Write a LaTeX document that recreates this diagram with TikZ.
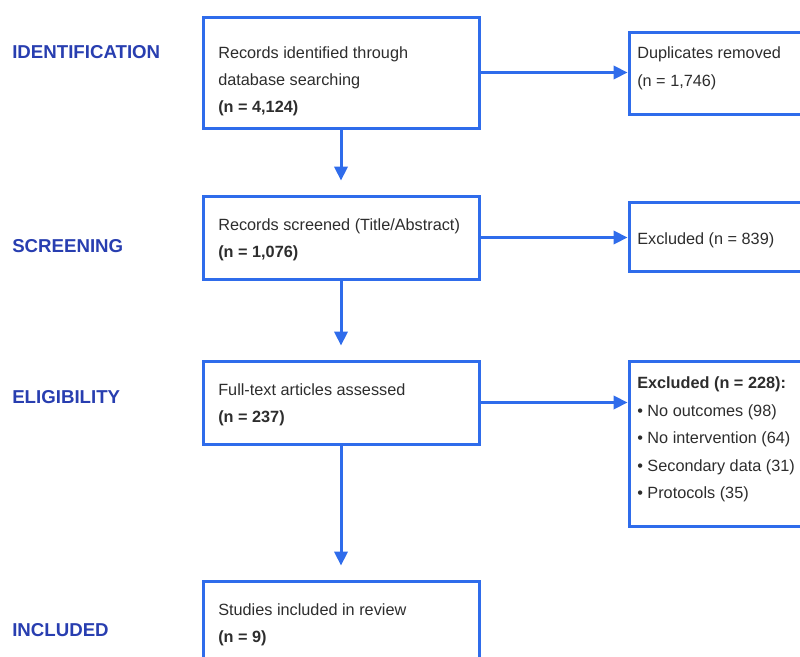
\documentclass[tikz,border=0pt]{standalone}
\usepackage{fontspec}
\setmainfont{Liberation Sans}
\usetikzlibrary{arrows.meta}
\definecolor{boxblue}{RGB}{47,108,235}
\definecolor{labelblue}{RGB}{40,62,176}
\definecolor{txt}{RGB}{45,45,45}
\tikzset{
  box/.style={draw=boxblue, line width=2.25pt, rectangle, inner sep=0pt},
  flow/.style={draw=boxblue, line width=2.25pt, -{Triangle[length=10.5pt,width=10pt]}},
  downflow/.style={flow, shorten >=10.5pt},
  stage/.style={anchor=base west, inner sep=0pt, text=labelblue, font=\fontsize{14}{16}\selectfont\bfseries},
  line/.style={anchor=base west, inner sep=0pt, text=txt, font=\fontsize{12.2}{14}\selectfont},
  bline/.style={line, font=\fontsize{12.2}{14}\selectfont\bfseries}
}
\begin{document}
\begin{tikzpicture}[x=0.75pt,y=-0.75pt]
\useasboundingbox (0,0) rectangle (800,657);
\clip (0,0) rectangle (800,657);
% stage labels
\node[stage] (s1) at (12,58) {IDENTIFICATION};
\node[stage] (s2) at (12,252) {SCREENING};
\node[stage] (s3) at (12,403) {ELIGIBILITY};
\node[stage] (s4) at (12,636) {INCLUDED};
% main boxes
\node[box, minimum width=207pt, minimum height=83.25pt] (b1) at (341,72.5) {};
\node[box, minimum width=207pt, minimum height=62.25pt] (b2) at (341,237.5) {};
\node[box, minimum width=207pt, minimum height=62.25pt] (b3) at (341,402.5) {};
\node[box, minimum width=207pt, minimum height=83.25pt] (b4) at (341,636.5) {};
% side boxes
\node[box, minimum width=150.75pt, minimum height=61.5pt] (r1) at (729.5,73) {};
\node[box, minimum width=150.75pt, minimum height=51.75pt] (r2) at (729.5,236.5) {};
\node[box, minimum width=150.75pt, minimum height=123.75pt] (r3) at (729.5,443.5) {};
% texts main
\node[line] (t1a) at (218,58) {Records identified through};
\node[line] (t1b) at (218,85) {database searching};
\node[bline] (t1c) at (218,112) {(n = 4,124)};
\node[line] (t2a) at (218,230) {Records screened (Title/Abstract)};
\node[bline] (t2b) at (218,257) {(n = 1,076)};
\node[line] (t3a) at (218,395) {Full-text articles assessed};
\node[bline] (t3b) at (218,422) {(n = 237)};
\node[line] (t4a) at (218,615) {Studies included in review};
\node[bline] (t4b) at (218,642) {(n = 9)};
% texts side
\node[line] (u1a) at (637,58) {Duplicates removed};
\node[line] (u1b) at (637,86) {(n = 1,746)};
\node[line] (u2a) at (637,244) {Excluded (n = 839)};
\node[bline] (u3a) at (637,388) {Excluded (n = 228):};
\node[line] (u3b) at (637,416) {• No outcomes (98)};
\node[line] (u3c) at (637,443) {• No intervention (64)};
\node[line] (u3d) at (637,471) {• Secondary data (31)};
\node[line] (u3e) at (637,498) {• Protocols (35)};
% connectors
\draw[downflow] (b1.south) -- (b2.north);
\draw[downflow] (b2.south) -- (b3.north);
\draw[downflow] (b3.south) -- (b4.north);
\draw[flow] (b1.east) -- (b1.east -| r1.west);
\draw[flow] (b2.east) -- (b2.east -| r2.west);
\draw[flow] (b3.east) -- (b3.east -| r3.west);
\end{tikzpicture}
\end{document}
